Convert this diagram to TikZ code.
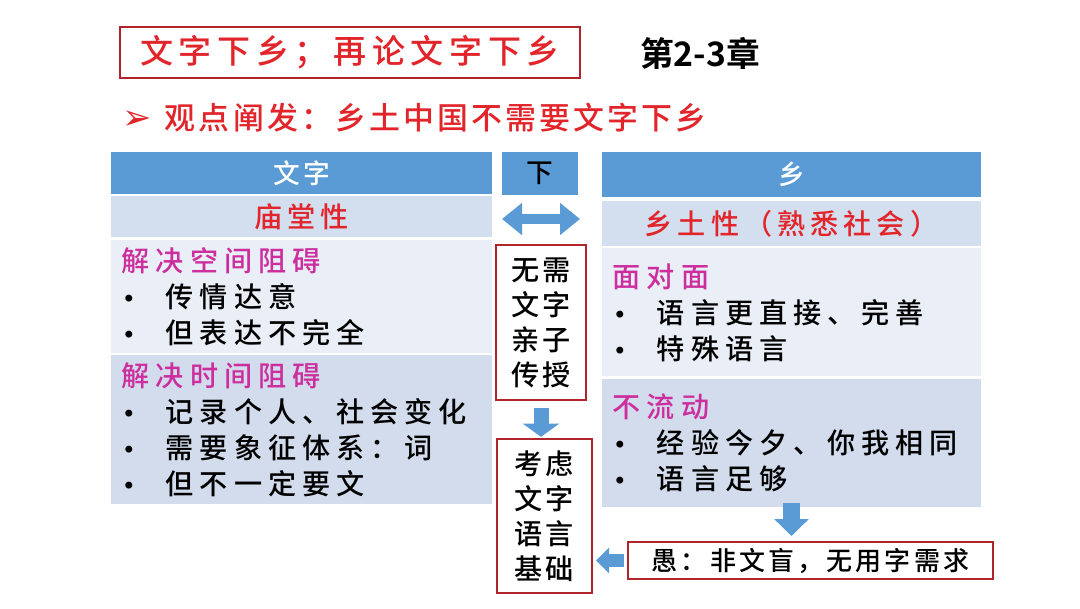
\documentclass[tikz,border=0pt]{standalone}
\usepackage{fontspec}
\setmainfont{Noto Sans CJK SC Medium}[BoldFont={Noto Sans CJK SC Bold}]
\newfontfamily\symfont{DejaVu Sans}
\usetikzlibrary{arrows.meta,positioning}
\definecolor{xtblue}{HTML}{5B9BD5}
\definecolor{xtrowA}{HTML}{D3DEEF}
\definecolor{xtrowB}{HTML}{E9EEF7}
\definecolor{xtrowC}{HTML}{D2DCEC}
\definecolor{xtred}{HTML}{E1252B}
\definecolor{xtdark}{HTML}{B0242C}
\definecolor{xtpink}{HTML}{CC2E9E}

\newcommand{\bodyfont}{\fontsize{20}{25.6}\selectfont\addfontfeature{LetterSpace=21}}
\newcommand{\itm}[1]{\makebox[1.1cm][l]{\symfont\fontsize{17}{17}\selectfont •}#1}

\begin{document}
\begin{tikzpicture}[
    x=0.025cm, y=-0.025cm,
    node distance=0.06cm,
    bar/.style={rectangle, fill=#1, inner sep=0pt, outer sep=0pt},
    headtxt/.style={font=\fontsize{19}{22}\selectfont\addfontfeature{LetterSpace=12}},
    rowtxt/.style={text=xtred, font=\fontsize{20}{22}\selectfont\addfontfeature{LetterSpace=18}},
    sec/.style={rectangle, fill=#1, inner xsep=0.275cm, inner ysep=0pt,
                outer sep=0pt, align=left, font=\bodyfont},
    redbox/.style={rectangle, draw=xtdark, line width=1.4pt, fill=white, inner sep=0pt},
    vtxt/.style={align=center, font=\fontsize{20}{24.9}\selectfont\addfontfeature{LetterSpace=10}},
    blockarr/.style={xtblue, line width=#1}
]
\fill[white] (0,0) rectangle (1080,608);
\useasboundingbox (0,0) rectangle (1080,608);

% title line
\node[redbox, line width=1.6pt, minimum width=11.5cm, minimum height=1.275cm,
      text=xtred, font=\fontsize{23.5}{26}\selectfont\addfontfeature{LetterSpace=17}]
      (title) at (350,52.5) {文字下乡；再论文字下乡};
\node[font=\fontsize{24}{26}\selectfont\bfseries] (chap) at (700,53) {第2-3章};
\node[anchor=west, text=xtred, font=\fontsize{22}{24}\selectfont\addfontfeature{LetterSpace=10}]
      (thesis) at (118,118)
      {\makebox[1.05cm][l]{\symfont\fontsize{25}{25}\selectfont ➢}观点阐发：乡土中国不需要文字下乡};

% left column
\node[bar=xtblue, minimum width=9.525cm, minimum height=1.05cm, headtxt, text=white]
      (lhead) at (301.5,173) {文字};
\node[bar=xtrowA, minimum width=9.525cm, minimum height=1.025cm, rowtxt, below=of lhead]
      (lrow) {庙堂性};
\node[sec=xtrowB, text width=8.975cm, minimum height=2.825cm, below=of lrow] (lsec1)
      {\textcolor{xtpink}{解决空间阻碍}\\ \itm{传情达意}\\ \itm{但表达不完全}};
\node[sec=xtrowC, text width=8.975cm, minimum height=3.725cm, below=of lsec1] (lsec2)
      {\textcolor{xtpink}{解决时间阻碍}\\ \itm{记录个人、社会变化}\\ \itm{需要象征体系：词}\\ \itm{但不一定要文}};

% right column
\node[bar=xtblue, minimum width=9.475cm, minimum height=1.125cm, headtxt, text=white]
      (rhead) at (791.5,174.5) {乡};
\node[bar=xtrowA, minimum width=9.475cm, minimum height=1.125cm, rowtxt, below=0.1cm of rhead]
      (rrow) {乡土性（熟悉社会）};
\node[sec=xtrowB, text width=8.925cm, minimum height=3.2cm, below=of rrow] (rsec1)
      {\textcolor{xtpink}{面对面}\\ \itm{语言更直接、完善}\\ \itm{特殊语言}};
\node[sec=xtrowC, text width=8.925cm, minimum height=3.2cm, below=of rsec1] (rsec2)
      {\textcolor{xtpink}{不流动}\\ \itm{经验今夕、你我相同}\\ \itm{语言足够}};

% middle
\node[bar=xtblue, minimum width=1.9cm, minimum height=1.075cm, headtxt] (xia) at (540,173.5) {下};
\coordinate (dl) at (502,219);
\coordinate (dr) at (580,219);
\node[redbox, minimum width=2.25cm, minimum height=3.875cm, vtxt] (need) at (541,322.5)
      {无需\\文字\\亲子\\传授};
\node[redbox, minimum width=2.375cm, minimum height=3.85cm, vtxt] (base) at (544.5,516)
      {考虑\\文字\\语言\\基础};
\node[redbox, minimum width=9.125cm, minimum height=0.925cm,
      font=\fontsize{18.5}{20}\selectfont\addfontfeature{LetterSpace=12}]
      (yu) at (810.5,560.5) {愚：非文盲，无用字需求};

% arrows
\draw[blockarr=0.26cm, {Triangle[width=0.775cm,length=0.5cm]}-{Triangle[width=0.775cm,length=0.5cm]}]
      (dl) -- (dr);
\draw[blockarr=0.375cm, -{Triangle[width=0.9cm,length=0.33cm]}, shorten <=0.175cm, shorten >=0.03cm]
      (need.south) -- (need.south |- base.north);
\draw[blockarr=0.42cm, -{Triangle[width=0.83cm,length=0.42cm]}, shorten <=-0.1cm, shorten >=0.125cm]
      (rsec2.south) -- (rsec2.south |- yu.north);
\draw[blockarr=0.33cm, -{Triangle[width=0.63cm,length=0.33cm]}, shorten <=0.075cm, shorten >=0.075cm]
      (yu.west) -- (yu.west -| base.east);

\end{tikzpicture}
\end{document}
